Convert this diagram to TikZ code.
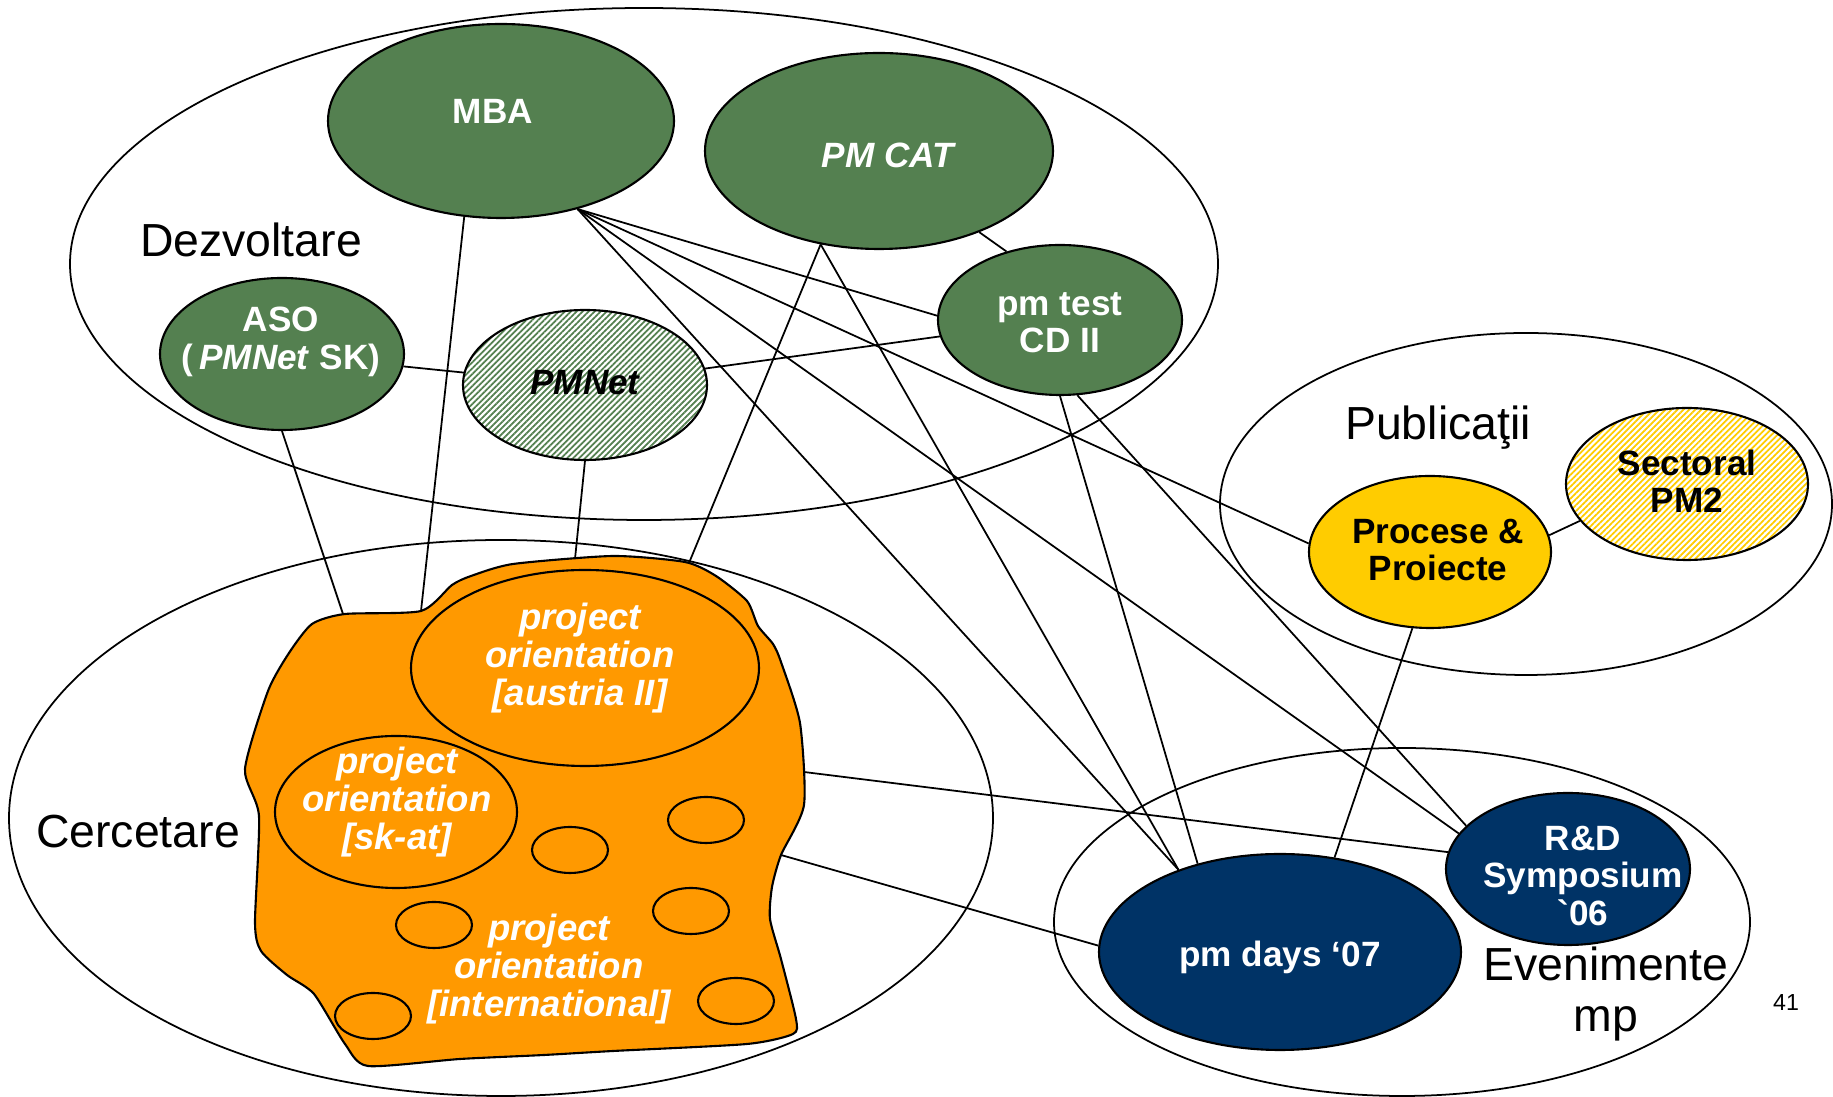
\documentclass[tikz,border=0pt]{standalone}
\usepackage{fontspec}
\setmainfont{Liberation Sans}
\newfontfamily\rawfont[Ligatures=TeXOff]{Liberation Sans}
\usepackage{xcolor}
\usetikzlibrary{shapes.geometric}
\usetikzlibrary{patterns.meta}

\definecolor{leaf}{RGB}{84,128,80}
\definecolor{navy}{RGB}{0,51,102}
\definecolor{gold}{RGB}{255,204,0}
\definecolor{tang}{RGB}{255,153,0}

\begin{document}
\begin{tikzpicture}[x=0.1mm,y=-0.1mm,
    oval/.style={draw,shape=ellipse,inner sep=0pt,line width=0.6pt},
    grn/.style={oval,fill=leaf},
    blu/.style={oval,fill=navy},
    ylw/.style={oval,fill=gold},
    hatched/.style={oval,preaction={fill=white},
      pattern={Lines[angle=45,distance=1.2pt,line width=0.5pt]},pattern color=#1},
    hole/.style={oval,minimum width=7.6mm,minimum height=4.6mm},
    txt/.style={align=center,inner sep=0pt,
      font=\bfseries\fontsize{10}{10.6}\selectfont},
    area/.style={align=center,inner sep=0pt,
      font=\fontsize{13.2}{14.6}\selectfont},
    link/.style={line width=0.5pt}]

    \useasboundingbox (0,0) rectangle (1833,1097);

    % regions
    \begin{scope}[line width=0.5pt]
      \draw (644,264) ellipse [x radius=57.4mm,y radius=25.6mm];
      \draw (501,818) ellipse [x radius=49.2mm,y radius=27.8mm];
      \draw (1526,504) ellipse [x radius=30.6mm,y radius=17.1mm];
      \draw (1402,922) ellipse [x radius=34.8mm,y radius=17.4mm];
    \end{scope}

    \node[area] (dezv) at (251,240) {Dezvoltare};
    \node[area] (cerc) at (138,832) {Cercetare};
    \node[area] (publ) at (1438,428) {Publicaţii};
    \node[area] (even) at (1606,994) {Evenimente\\mp};
    \node[inner sep=0pt,font=\fontsize{6.6}{7}\selectfont] (page) at (1786,1003) {41};

    % project orientation
    \draw[fill=tang,line width=0.6pt] plot[smooth cycle,tension=0.4] coordinates {
      (312,624) (345,614) (421,611) (452,585) (471,576) (513,564) (613,556)
      (685,562) (716,576) (747,601) (758,626) (773,644) (781,662) (800,723)
      (804,805) (781,855) (772,887) (770,919) (781,959) (796,1019) (793,1034)
      (747,1044) (613,1051) (544,1055) (460,1059) (368,1066) (345,1044)
      (314,994) (287,975) (261,951) (255,923) (259,816) (245,769) (268,691)
      (289,653)};
    \coordinate (po-aso) at (343,614);
    \coordinate (po-mba) at (421,611);
    \coordinate (po-net) at (575,559);
    \coordinate (po-cat) at (689,563);
    \coordinate (po-rd) at (804,772);
    \coordinate (po-days) at (781,855);

    \node[oval,minimum width=34.8mm,minimum height=19.6mm] (austria) at (585,668) {};
    \node[oval,minimum width=24.2mm,minimum height=15.2mm] (skat) at (396,812) {};
    \foreach \p [count=\i] in {(706,820),(570,850),(691,911),(434,925),(373,1016),(736,1001)}
      \node[hole] (hole\i) at \p {};

    \begin{scope}[every node/.append style={txt,white,font=\bfseries\itshape\fontsize{10.4}{10.8}\selectfont}]
      \node (austriat) at (580,658) {project\\orientation\\{[austria II]}};
      \node (skatt) at (397,802) {project\\orientation\\{[sk-at]}};
      \node (intt) at (549,969) {project\\orientation\\{[international]}};
    \end{scope}

    % programmes, publications, events
    \node[grn,minimum width=34.6mm,minimum height=19.4mm] (MBA) at (501,121) {};
    \node[grn,minimum width=34.8mm,minimum height=19.6mm] (PMCAT) at (879,151) {};
    \node[grn,minimum width=24.4mm,minimum height=15mm] (pmtest) at (1060,320) {};
    \node[grn,minimum width=24.4mm,minimum height=15.2mm] (ASO) at (282,354) {};
    \node[hatched=leaf,minimum width=24.4mm,minimum height=15mm] (PMNet) at (585,385) {};
    \node[ylw,minimum width=24.2mm,minimum height=15.2mm] (Procese) at (1430,552) {};
    \node[hatched=gold,minimum width=24.2mm,minimum height=15.2mm] (Sectoral) at (1687,484) {};
    \node[blu,minimum width=24.4mm,minimum height=15.2mm] (RD) at (1568,869) {};
    \node[blu,minimum width=36.2mm,minimum height=19.6mm] (pmdays) at (1280,952) {};

    \begin{scope}[every node/.append style={txt,white}]
      \node (MBAt) at (493,111) {MBA};
      \node (PMCATt) at (888,155) {\itshape PM CAT};
      \node (pmtestt) at (1060,323) {pm test\\CD II};
      \node (ASOt) at (281,342) {ASO\\(\,\textit{PMNet} SK)};
      \node (RDt) at (1583,876) {R\&D\\Symposium\\{\rawfont\bfseries`}06};
      \node (pmdayst) at (1280,957) {pm days ‘07};
    \end{scope}
    \begin{scope}[every node/.append style={txt,black}]
      \node (PMNett) at (585,383) {\itshape PMNet};
      \node (Proceset) at (1438,550) {Procese \&\\Proiecte};
      \node (Sectoralt) at (1687,481) {Sectoral\\PM2};
    \end{scope}

    % links
    \begin{scope}[link]
      \draw (ASO.south) -- (po-aso);
      \draw (MBA.-111) -- (po-mba);
      \draw (ASO) -- (PMNet);
      \draw (PMNet) -- (pmtest);
      \draw (PMNet.south) -- (po-net);
      \draw (PMCAT.-122) -- (po-cat);
      \draw (PMCAT.-122) -- (pmdays.141);
      \draw (PMCAT.-39) -- (pmtest.128);
      \draw (MBA.-49) -- (pmdays.141);
      \draw (MBA.-49) -- (pmtest.178);
      \draw (MBA.-49) -- (Procese.176);
      \draw (MBA.-49) -- (RD.162);
      \draw (pmtest.-77) -- (RD.157);
      \draw (pmtest.south) -- (pmdays.133);
      \draw (Procese.-103) -- (pmdays.60);
      \draw (Procese.8) -- (Sectoral.-161);
      \draw (po-rd) -- (RD.172);
      \draw (po-days) -- (pmdays.178);
    \end{scope}
  \end{tikzpicture}
\end{document}
